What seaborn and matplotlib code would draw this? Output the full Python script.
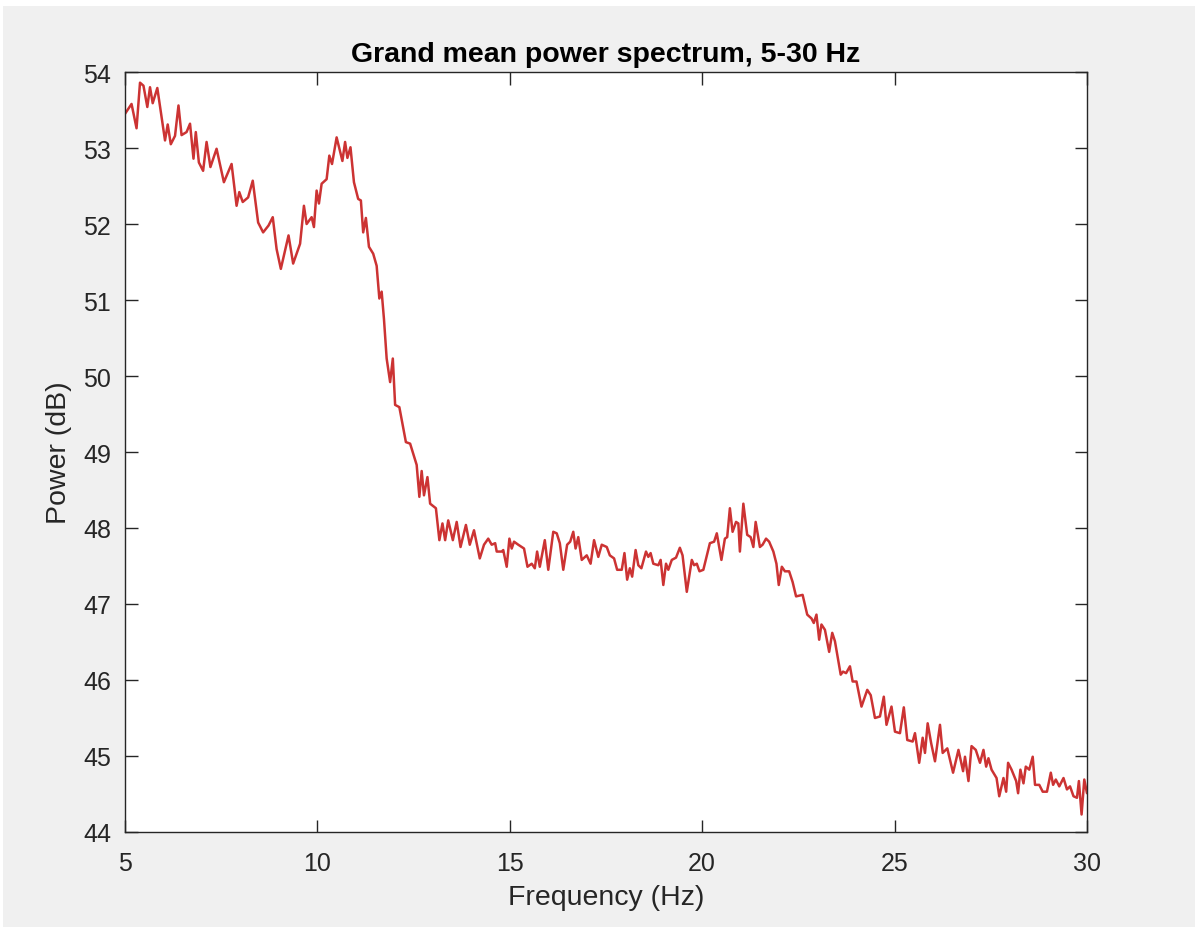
import numpy as np
import pandas as pd
import seaborn as sns
import matplotlib.pyplot as plt
from matplotlib.patches import Rectangle

# Frequenser (Hz) og effekt (dB)
freq = [5.00, 5.17, 5.30, 5.39, 5.48, 5.58, 5.65, 5.72, 5.84, 6.04, 6.11, 6.19, 6.30, 6.39,
        6.47, 6.60, 6.69, 6.78, 6.84, 6.92, 7.03, 7.12, 7.22, 7.38, 7.57, 7.77, 7.90, 7.97,
        8.06, 8.20, 8.32, 8.46, 8.59, 8.73, 8.84, 8.94, 9.05, 9.25, 9.37, 9.55, 9.65, 9.72,
        9.85, 9.91, 9.98, 10.04, 10.11, 10.24, 10.31, 10.38, 10.50, 10.65, 10.72, 10.78,
        10.86, 10.95, 11.06, 11.13, 11.19, 11.26, 11.34, 11.45, 11.54, 11.61, 11.67, 11.73,
        11.80, 11.89, 11.96, 12.02, 12.13, 12.30, 12.41, 12.58, 12.65, 12.71, 12.77, 12.86,
        12.93, 13.08, 13.17, 13.25, 13.32, 13.40, 13.52, 13.62, 13.72, 13.86, 13.96, 14.07,
        14.22, 14.33, 14.44, 14.53, 14.62, 14.66, 14.79, 14.83, 14.92, 14.99, 15.05, 15.11,
        15.22, 15.31, 15.37, 15.46, 15.57, 15.65, 15.71, 15.78, 15.91, 16.00, 16.13, 16.22,
        16.30, 16.39, 16.49, 16.57, 16.65, 16.71, 16.78, 16.87, 17.00, 17.10, 17.19, 17.30,
        17.39, 17.52, 17.60, 17.71, 17.79, 17.91, 17.98, 18.05, 18.12, 18.18, 18.27, 18.34,
        18.42, 18.54, 18.60, 18.66, 18.73, 18.86, 18.92, 18.99, 19.06, 19.12, 19.21, 19.32,
        19.42, 19.49, 19.60, 19.73, 19.79, 19.86, 19.93, 20.03, 20.20, 20.31, 20.38, 20.50,
        20.59, 20.65, 20.72, 20.79, 20.88, 20.94, 20.98, 21.07, 21.17, 21.26, 21.33, 21.39,
        21.50, 21.57, 21.66, 21.74, 21.85, 21.93, 21.99, 22.07, 22.15, 22.26, 22.35, 22.44,
        22.61, 22.73, 22.84, 22.90, 22.97, 23.04, 23.10, 23.19, 23.30, 23.38, 23.45, 23.60,
        23.66, 23.74, 23.84, 23.91, 24.01, 24.14, 24.29, 24.38, 24.49, 24.62, 24.72, 24.79,
        24.92, 25.01, 25.14, 25.24, 25.33, 25.47, 25.53, 25.64, 25.73, 25.79, 25.86, 25.95,
        26.05, 26.18, 26.25, 26.37, 26.52, 26.66, 26.78, 26.83, 26.92, 27.00, 27.11, 27.22,
        27.31, 27.38, 27.44, 27.52, 27.65, 27.72, 27.83, 27.90, 27.95, 28.04, 28.16, 28.21,
        28.27, 28.35, 28.41, 28.50, 28.59, 28.65, 28.76, 28.85, 28.96, 29.06, 29.12, 29.19,
        29.28, 29.39, 29.48, 29.56, 29.65, 29.74, 29.79, 29.86, 29.93, 30.00]

power = [53.45, 53.58, 53.26, 53.86, 53.82, 53.54, 53.80, 53.59, 53.79, 53.10, 53.31, 53.05, 53.16, 53.56,
         53.17, 53.21, 53.32, 52.86, 53.21, 52.81, 52.70, 53.08, 52.75, 52.99, 52.55, 52.79, 52.24, 52.42,
         52.29, 52.35, 52.57, 52.02, 51.89, 51.98, 52.09, 51.67, 51.41, 51.85, 51.48, 51.74, 52.24, 52.00,
         52.09, 51.96, 52.44, 52.27, 52.53, 52.59, 52.90, 52.79, 53.14, 52.83, 53.08, 52.87,
         53.01, 52.55, 52.33, 52.31, 51.89, 52.08, 51.70, 51.61, 51.45, 51.02, 51.11, 50.75,
         50.23, 49.92, 50.23, 49.62, 49.59, 49.13, 49.11, 48.83, 48.41, 48.75, 48.43, 48.67,
         48.32, 48.26, 47.84, 48.06, 47.84, 48.10, 47.84, 48.08, 47.75, 48.04, 47.78, 47.97,
         47.60, 47.78, 47.86, 47.78, 47.80, 47.69, 47.69, 47.71, 47.49, 47.86, 47.73, 47.82,
         47.78, 47.75, 47.73, 47.49, 47.53, 47.47, 47.69, 47.49, 47.84, 47.45, 47.95, 47.93,
         47.80, 47.45, 47.78, 47.82, 47.95, 47.73, 47.88, 47.58, 47.64, 47.53, 47.84, 47.62,
         47.78, 47.75, 47.64, 47.60, 47.45, 47.45, 47.67, 47.32, 47.47, 47.36, 47.71, 47.51,
         47.47, 47.69, 47.62, 47.67, 47.53, 47.51, 47.58, 47.25, 47.53, 47.45, 47.58, 47.61,
         47.74, 47.64, 47.16, 47.58, 47.51, 47.53, 47.43, 47.45, 47.80, 47.82, 47.93, 47.58,
         47.86, 47.88, 48.26, 47.95, 48.08, 48.06, 47.69, 48.32, 47.91, 47.88, 47.75, 48.08,
         47.75, 47.78, 47.86, 47.82, 47.69, 47.53, 47.25, 47.49, 47.43, 47.43, 47.29, 47.10,
         47.12, 46.86, 46.81, 46.75, 46.86, 46.53, 46.73, 46.66, 46.37, 46.62, 46.51, 46.07,
         46.11, 46.09, 46.18, 45.98, 45.98, 45.65, 45.87, 45.80, 45.50, 45.52, 45.78, 45.41,
         45.65, 45.32, 45.30, 45.64, 45.21, 45.19, 45.30, 44.91, 45.24, 45.04, 45.43, 45.17,
         44.93, 45.41, 45.04, 45.10, 44.78, 45.08, 44.80, 44.99, 44.67, 45.13, 45.08, 44.91,
         45.08, 44.86, 44.97, 44.82, 44.71, 44.47, 44.71, 44.53, 44.91, 44.82, 44.67, 44.51,
         44.82, 44.64, 44.86, 44.82, 44.99, 44.62, 44.62, 44.53, 44.53, 44.78, 44.62, 44.69,
         44.60, 44.71, 44.56, 44.60, 44.47, 44.45, 44.67, 44.23, 44.69, 44.51]

x_ticks = [5, 10, 15, 20, 25, 30]
y_ticks = [44, 45, 46, 47, 48, 49, 50, 51, 52, 53, 54]

df = pd.DataFrame({'Frequency (Hz)': freq, 'Power (dB)': power})

sns.set_style('ticks')
plt.rcParams['font.family'] = ['Liberation Sans', 'DejaVu Sans']

fig = plt.figure(figsize=(11.95, 9.28), dpi=100, facecolor='#f0f0f0')
# hvit kant øverst og til venstre, som i skjermbildet
fig.add_artist(Rectangle((0, 1 - 7 / 928), 1, 7 / 928, transform=fig.transFigure,
                         facecolor='white', edgecolor='none'))
fig.add_artist(Rectangle((0, 0), 3 / 1195, 1, transform=fig.transFigure,
                         facecolor='white', edgecolor='none'))

ax = fig.add_axes([0.1046, 0.1024, 0.8050, 0.8189])
ax.set_facecolor('white')

sns.lineplot(data=df, x='Frequency (Hz)', y='Power (dB)', color='#cc3333',
             linewidth=1.8, estimator=None, sort=False, ax=ax)

ax.set_xlim(5, 30)
ax.set_ylim(44, 54)
ax.set_xticks(x_ticks)
ax.set_yticks(y_ticks)
ax.tick_params(direction='in', length=9, width=1, colors='#262626', labelsize=18,
               top=True, right=True)
ax.tick_params(axis='x', pad=14)
ax.tick_params(axis='y', pad=10)
for s in ax.spines.values():
    s.set_visible(True)
    s.set_color('#262626')
    s.set_linewidth(1)

ax.set_xlabel('Frequency (Hz)', fontsize=20.5, color='#262626', labelpad=6)
ax.set_ylabel('Power (dB)', fontsize=20.5, color='#262626', labelpad=8)
ax.set_title('Grand mean power spectrum, 5-30 Hz', fontsize=20.5, fontweight='bold',
             color='black', pad=8)

fig.savefig('out.png', dpi=100, facecolor=fig.get_facecolor())
